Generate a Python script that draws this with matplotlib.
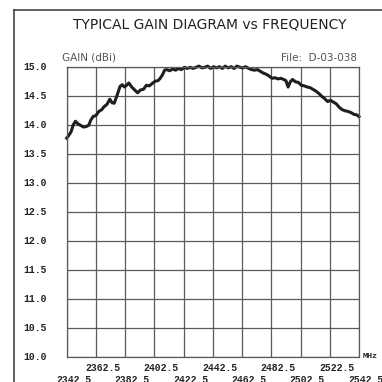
import numpy as np
import matplotlib
matplotlib.use('Agg')
import matplotlib.pyplot as plt
from matplotlib.lines import Line2D

# measured gain of the antenna across the band
freq = [2342.5, 2344.0, 2345.5, 2347.0, 2348.5, 2350.0, 2352.0, 2354.0, 2356.0, 2357.5,
        2359.0, 2360.5, 2362.5, 2364.5, 2366.5, 2368.0, 2370.0, 2372.0, 2373.5, 2375.0,
        2377.0, 2379.0, 2380.5, 2382.0, 2383.5, 2385.0, 2387.0, 2389.0, 2391.0, 2393.0,
        2395.0, 2397.0, 2399.0, 2401.0, 2403.0, 2405.0, 2406.5, 2408.0, 2409.5, 2411.0,
        2413.0, 2415.0, 2417.0, 2419.0, 2421.0, 2423.0, 2425.0, 2427.0, 2429.0, 2431.0,
        2433.0, 2435.0, 2437.0, 2439.0, 2441.0, 2443.0, 2445.0, 2447.0, 2449.0, 2451.0,
        2453.0, 2455.0, 2457.0, 2459.0, 2461.0, 2463.0, 2465.0, 2467.0, 2469.0, 2471.0,
        2473.0, 2475.0, 2477.0, 2479.0, 2481.0, 2483.0, 2485.0, 2487.0, 2489.0, 2491.0,
        2492.5, 2494.0, 2495.5, 2497.0, 2499.0, 2501.0, 2503.0, 2505.0, 2507.0, 2509.0,
        2511.0, 2513.0, 2515.0, 2517.0, 2519.0, 2521.0, 2523.0, 2525.0, 2527.0, 2529.0,
        2531.0, 2533.0, 2535.0, 2537.0, 2539.0, 2541.0, 2542.5]
gain = [13.77, 13.82, 13.88, 14.00, 14.06, 14.02, 13.99, 13.96, 13.97, 13.99,
        14.08, 14.14, 14.16, 14.23, 14.26, 14.31, 14.35, 14.44, 14.38, 14.37,
        14.51, 14.66, 14.69, 14.65, 14.68, 14.72, 14.65, 14.60, 14.55, 14.60,
        14.61, 14.68, 14.67, 14.71, 14.75, 14.76, 14.80, 14.86, 14.94, 14.95,
        14.93, 14.96, 14.94, 14.97, 14.95, 14.99, 14.97, 14.99, 14.97, 14.99,
        15.01, 14.98, 14.99, 15.01, 14.97, 15.00, 14.98, 15.00, 14.97, 15.01,
        14.98, 15.00, 14.97, 15.01, 14.99, 14.98, 15.00, 14.97, 14.95, 14.94,
        14.95, 14.92, 14.89, 14.87, 14.84, 14.80, 14.81, 14.79, 14.80, 14.78,
        14.76, 14.65, 14.74, 14.78, 14.74, 14.73, 14.68, 14.67, 14.65, 14.64,
        14.61, 14.58, 14.54, 14.49, 14.45, 14.40, 14.42, 14.39, 14.36, 14.30,
        14.26, 14.24, 14.23, 14.21, 14.18, 14.17, 14.14]

y_ticks = [10.0, 10.5, 11.0, 11.5, 12.0, 12.5, 13.0, 13.5, 14.0, 14.5, 15.0]
x_upper = [2362.5, 2402.5, 2442.5, 2482.5, 2522.5]
x_lower = [2342.5, 2382.5, 2422.5, 2462.5, 2502.5, 2542.5]

mono = 'Liberation Mono'
grid_c = '#5a5a5a'

fig = plt.figure(figsize=(3.82, 3.82), dpi=100)
fig.patch.set_facecolor('white')

# frame around the sheet (left and top edges)
fig.add_artist(Line2D([14/382, 14/382], [0, 1 - 10/382], color='#444444', lw=1.2))
fig.add_artist(Line2D([14/382, 1], [1 - 10/382, 1 - 10/382], color='#444444', lw=1.2))

ax = fig.add_axes([66.7/382, 1 - 357/382, 292.3/382, 290.3/382])
ax.plot(freq, gain, color='#1e1e1e', lw=2.2, solid_joinstyle='round', clip_on=False)
ax.set_xlim(2342.5, 2542.5)
ax.set_ylim(10.0, 15.0)

ax.set_xticks(np.arange(2342.5, 2542.6, 20))
ax.set_yticks(y_ticks)
ax.grid(True, color=grid_c, lw=0.9)
ax.tick_params(length=0, labelbottom=False, labelleft=False)
for s in ax.spines.values():
    s.set_color(grid_c)
    s.set_linewidth(0.9)

# y labels
for v in y_ticks:
    ax.annotate('%.1f' % v, xy=(0, v), xycoords=('axes fraction', 'data'),
                xytext=(-14, 0), textcoords='offset points', ha='right', va='center',
                family=mono, weight='bold', fontsize=7, color='#222222')

# staggered frequency labels
for v in x_upper:
    ax.annotate('%.1f' % v, xy=(v, 0), xycoords=('data', 'axes fraction'),
                xytext=(5, -8), textcoords='offset points', ha='center', va='center',
                family=mono, weight='bold', fontsize=7, color='#222222')
for v in x_lower:
    ax.annotate('%.1f' % v, xy=(v, 0), xycoords=('data', 'axes fraction'),
                xytext=(5, -16.5), textcoords='offset points', ha='center', va='center',
                family=mono, weight='bold', fontsize=7, color='#222222')
ax.annotate('MHz', xy=(1, 0), xycoords='axes fraction', xytext=(2.5, 0),
            textcoords='offset points', ha='left', va='center',
            family=mono, weight='bold', fontsize=6, color='#222222')

fig.text(210/382, 1 - 25/382, 'TYPICAL GAIN DIAGRAM vs FREQUENCY', ha='center', va='center',
         fontsize=10, family='DejaVu Sans', color='#222222')
fig.text(62/382, 1 - 58/382, 'GAIN (dBi)', ha='left', va='center',
         fontsize=7.5, family='DejaVu Sans', color='#555555')
fig.text(357/382, 1 - 58/382, 'File:  D-03-038', ha='right', va='center',
         fontsize=7.5, family='DejaVu Sans', color='#555555')

fig.savefig('out.png', dpi=100, facecolor='white')
